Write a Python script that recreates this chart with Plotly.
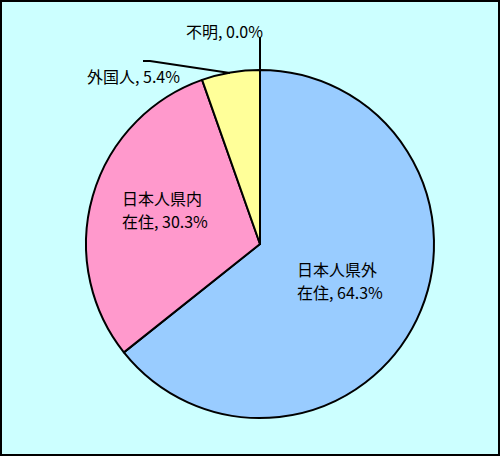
import plotly.graph_objects as go

categories = ["日本人県外在住", "日本人県内在住", "外国人", "不明"]
values = [64.3, 30.3, 5.4, 0.0]
colors = ["#99CCFF", "#FF99CC", "#FFFF99", "#FFFFFF"]

W, H = 500, 456
FONT = "Noto Sans CJK JP"
FS = 16

fig = go.Figure(go.Pie(
    labels=categories,
    values=[v if v > 0 else 1e-9 for v in values],
    sort=False,
    direction="clockwise",
    rotation=0,
    marker=dict(colors=colors, line=dict(color="#000000", width=2)),
    textinfo="none",
    hoverinfo="label+percent",
    showlegend=False,
    domain=dict(x=[86 / W, 434 / W], y=[1 - 418 / H, 1 - 70 / H]),
))

def px(x, y):
    return x / W, 1 - y / H

def label_lines(i, split=None):
    txt = f"{categories[i]}, {values[i]:.1f}%"
    if split:
        return [txt[:split], txt[split:]]
    return [txt]

annotations = []
# inside labels (two lines each)
for i, (lx, ly) in [(0, (296, 269)), (1, (121, 198))]:
    for k, line in enumerate(label_lines(i, 5)):
        x, y = px(lx, ly + 23 * k)
        annotations.append(dict(x=x, y=y, xref="paper", yref="paper", text=line,
                                showarrow=False, xanchor="left", yanchor="middle",
                                xshift=-1, font=dict(family=FONT, size=FS, color="#000000")))
# outside labels
for i, (lx, ly) in [(2, (86, 76)), (3, (185, 31))]:
    x, y = px(lx, ly)
    annotations.append(dict(x=x, y=y, xref="paper", yref="paper", text=label_lines(i)[0],
                            showarrow=False, xanchor="left", yanchor="middle",
                            xshift=-1, font=dict(family=FONT, size=FS, color="#000000")))

shapes = [
    dict(type="rect", xref="paper", yref="paper", x0=0, y0=0, x1=1, y1=1,
         line=dict(color="#000000", width=4), fillcolor="rgba(0,0,0,0)", layer="above"),
    dict(type="path", xref="paper", yref="paper",
         path="M {} {} L {} {}".format(*px(260, 37), *px(260, 70)),
         line=dict(color="#000000", width=2)),
    dict(type="path", xref="paper", yref="paper",
         path="M {} {} L {} {} L {} {}".format(*px(143, 61), *px(150, 61), *px(230, 73)),
         line=dict(color="#000000", width=2)),
]

fig.update_layout(
    width=W, height=H,
    margin=dict(l=0, r=0, t=0, b=0),
    paper_bgcolor="#CCFFFF",
    plot_bgcolor="#CCFFFF",
    annotations=annotations,
    shapes=shapes,
)

fig.write_html("out.html", config={"displayModeBar": False},
               post_script="document.body.style.margin='0';document.body.style.overflow='hidden';")
